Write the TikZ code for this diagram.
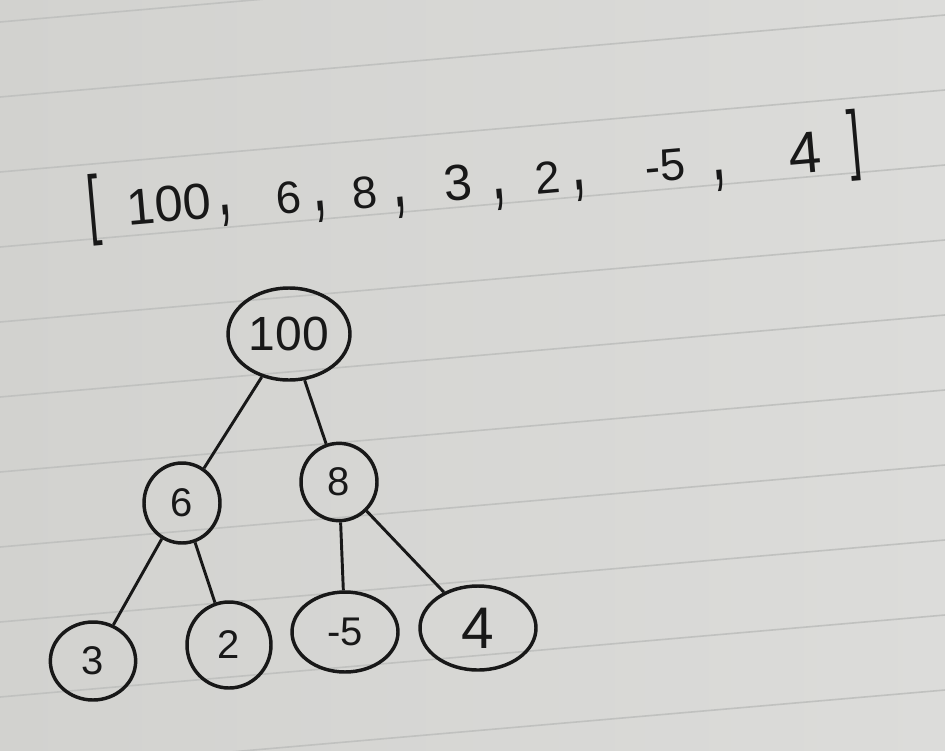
\documentclass[tikz,border=0pt]{standalone}
\usepackage{fontspec}
\setmainfont{Liberation Sans}
\usetikzlibrary{shapes.geometric}
\definecolor{paper}{RGB}{210,210,207}
\definecolor{paperR}{RGB}{220,220,218}
\definecolor{ruleclr}{RGB}{192,193,191}
\definecolor{ink}{RGB}{24,24,24}
\newcommand\hw[1]{\fontsize{#1}{#1}\selectfont}
\tikzset{
 ruleline/.style={draw=ruleclr, line width=1.2pt},
 tnode/.style={ellipse, draw=ink, line width=2.6pt, inner sep=0pt, text=ink, font=\hw{30}},
 link/.style={draw=ink, line width=2.2pt},
 arr/.style={text=ink, inner sep=0pt, rotate=5, font=\hw{34}},
}
\begin{document}
\begin{tikzpicture}[x=0.75pt,y=-0.75pt]
\useasboundingbox (0,0) rectangle (945,750);
\shade[left color=paper, right color=paperR] (0,0) rectangle (945,750);
\foreach \k in {0,...,10} \draw[ruleline] (0,{22+75*\k}) -- (945,{22+75*\k-82});
% array
\node[arr] (lb) at (94,210) {\scalebox{1}[1.7]{[}};
\node[arr, font=\hw{38}] (a100) at (169,204) {100};
\node[arr] (c1) at (226,216) {\scalebox{1.2}[2]{,}};
\node[arr] (a6) at (289,198) {6};
\node[arr] (c2) at (321,212) {\scalebox{1.2}[2]{,}};
\node[arr] (a8) at (365,193) {8};
\node[arr] (c3) at (401,208) {\scalebox{1.2}[2]{,}};
\node[arr, font=\hw{38}] (a3) at (458,183) {3};
\node[arr] (c4) at (500,200) {\scalebox{1.2}[2]{,}};
\node[arr] (a2) at (548,178) {2};
\node[arr] (c5) at (580,191) {\scalebox{1.2}[2]{,}};
\node[arr] (a5) at (665,166) {-5};
\node[arr] (c6) at (720,181) {\scalebox{1.2}[2]{,}};
\node[arr, font=\hw{44}] (a4) at (805,153) {4};
\node[arr] (rb) at (855,145) {\scalebox{1}[1.7]{]}};
% tree
\node[tnode, minimum width=91.5pt, minimum height=69pt, font=\hw{36}] (r100) at (289,334) {100};
\node[tnode, minimum width=57pt, minimum height=60pt] (n6) at (182,503) {6};
\node[tnode, minimum width=57pt, minimum height=58pt] (n8) at (339,482) {8};
\node[tnode, minimum width=64pt, minimum height=58.5pt] (n3) at (93,661) {3};
\node[tnode, minimum width=63pt, minimum height=64.5pt] (n2) at (229,645) {2};
\node[tnode, minimum width=79.5pt, minimum height=60pt] (n5) at (345,632) {-5};
\node[tnode, minimum width=87pt, minimum height=63pt, font=\hw{44}] (n4) at (478,628) {4};
\draw[link] (r100) -- (n6);
\draw[link] (r100) -- (n8);
\draw[link] (n6) -- (n3);
\draw[link] (n6) -- (n2);
\draw[link] (n8) -- (n5);
\draw[link] (n8) -- (n4);
\end{tikzpicture}
\end{document}
